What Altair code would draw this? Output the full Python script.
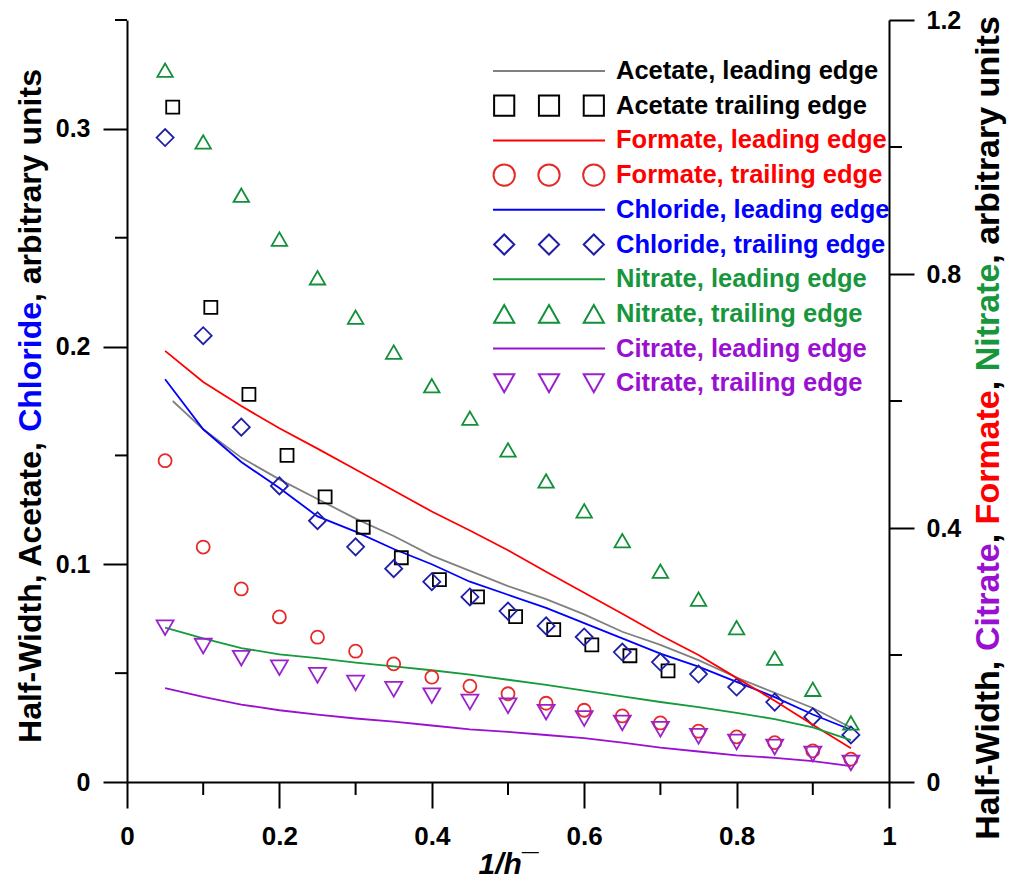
import altair as alt
import pandas as pd

# ---------------- data ----------------
x_pts = [0.05, 0.10, 0.15, 0.20, 0.25, 0.30, 0.35, 0.40, 0.45, 0.50,
         0.55, 0.60, 0.65, 0.70, 0.75, 0.80, 0.85, 0.90, 0.95]

# left axis (Acetate, Chloride)
acetate_lead_x = [0.06, 0.10, 0.15, 0.20, 0.25, 0.30, 0.35, 0.40, 0.45, 0.50,
                  0.55, 0.60, 0.65, 0.70, 0.75, 0.80, 0.85, 0.90, 0.95]
acetate_lead = [0.175, 0.162, 0.149, 0.139, 0.130, 0.121, 0.113, 0.104, 0.097, 0.090,
                0.084, 0.077, 0.069, 0.063, 0.056, 0.048, 0.041, 0.034, 0.025]
acetate_trail_x = [0.06, 0.11, 0.16, 0.21, 0.26, 0.31, 0.36, 0.41, 0.46, 0.51,
                   0.56, 0.61, 0.66, 0.71]
acetate_trail = [0.310, 0.218, 0.178, 0.150, 0.131, 0.117, 0.103, 0.093, 0.085, 0.076,
                 0.070, 0.063, 0.058, 0.051]
chloride_lead = [0.185, 0.162, 0.147, 0.135, 0.122, 0.115, 0.107, 0.100, 0.092, 0.086,
                 0.080, 0.073, 0.066, 0.059, 0.053, 0.046, 0.039, 0.031, 0.024]
chloride_trail = [0.296, 0.205, 0.163, 0.136, 0.120, 0.108, 0.098, 0.092, 0.085, 0.0785,
                  0.0717, 0.0666, 0.0597, 0.0551, 0.0496, 0.0436, 0.0367, 0.0299, 0.0216]

# right axis (Citrate, Formate, Nitrate)
formate_lead = [0.679, 0.630, 0.592, 0.557, 0.525, 0.492, 0.459, 0.426, 0.396, 0.365,
                0.331, 0.298, 0.265, 0.231, 0.200, 0.164, 0.128, 0.090, 0.053]
formate_trail = [0.506, 0.370, 0.304, 0.260, 0.228, 0.206, 0.186, 0.165, 0.151, 0.139,
                 0.124, 0.113, 0.104, 0.093, 0.080, 0.071, 0.062, 0.049, 0.036]
nitrate_lead = [0.243, 0.226, 0.211, 0.201, 0.195, 0.188, 0.182, 0.176, 0.169, 0.161,
                0.153, 0.144, 0.135, 0.126, 0.118, 0.109, 0.099, 0.086, 0.066]
nitrate_trail = [1.121, 1.008, 0.924, 0.855, 0.794, 0.732, 0.677, 0.624, 0.573, 0.523,
                 0.474, 0.427, 0.380, 0.332, 0.288, 0.243, 0.195, 0.146, 0.093]
citrate_lead = [0.148, 0.134, 0.122, 0.113, 0.106, 0.100, 0.095, 0.089, 0.083, 0.079,
                0.074, 0.069, 0.062, 0.054, 0.048, 0.042, 0.038, 0.033, 0.025]
citrate_trail = [0.243, 0.214, 0.195, 0.180, 0.168, 0.156, 0.146, 0.136, 0.126, 0.120,
                 0.110, 0.100, 0.093, 0.083, 0.072, 0.063, 0.055, 0.044, 0.030]

# tick values
x_major = [0, 0.2, 0.4, 0.6, 0.8, 1]
x_minor = [0.1, 0.3, 0.5, 0.7, 0.9]
left_major = [0, 0.1, 0.2, 0.3]
left_minor = [0.05, 0.15, 0.25, 0.35]
right_major = [0, 0.4, 0.8, 1.2]
right_minor = [0.2, 0.6, 1.0]

series_names = ["Acetate, leading edge", "Acetate trailing edge",
                "Formate, leading edge", "Formate, trailing edge",
                "Chloride, leading edge", "Chloride, trailing edge",
                "Nitrate, leading edge", "Nitrate, trailing edge",
                "Citrate, leading edge", "Citrate, trailing edge"]

# ---------------- styles ----------------
C_ACE_L, C_ACE_T = "#808080", "#000000"
C_FOR_L, C_FOR_T = "#ff0000", "#e52a2a"
C_CHL_L, C_CHL_T = "#0000ff", "#1e1eaa"
C_NIT_L, C_NIT_T = "#159a3c", "#12903a"
C_CIT_L, C_CIT_T = "#9a10d0", "#9a22cc"
series_colors = [C_ACE_L, C_ACE_T, C_FOR_L, C_FOR_T, C_CHL_L, C_CHL_T,
                 C_NIT_L, C_NIT_T, C_CIT_L, C_CIT_T]

FONT = "Liberation Sans"
W, H = 762, 762


def triple(fn):
    return " ".join(fn(c) for c in (-0.80, 0.0, 0.80))


line_path = "M-1,0L1,0"
sq_path = triple(lambda c: f"M{c-0.18:.3f},-0.18L{c+0.18:.3f},-0.18L{c+0.18:.3f},0.18L{c-0.18:.3f},0.18Z")
ci_path = triple(lambda c: f"M{c+0.19:.3f},0A0.19,0.19 0 1,1 {c-0.19:.3f},0A0.19,0.19 0 1,1 {c+0.19:.3f},0Z")
di_path = triple(lambda c: f"M{c-0.18:.3f},0L{c:.3f},-0.18L{c+0.18:.3f},0L{c:.3f},0.18Z")
tu_path = triple(lambda c: f"M{c:.3f},-0.16L{c+0.18:.3f},0.16L{c-0.18:.3f},0.16Z")
td_path = triple(lambda c: f"M{c-0.18:.3f},-0.16L{c+0.18:.3f},-0.16L{c:.3f},0.16Z")
series_shapes = [line_path, sq_path, line_path, ci_path, line_path, di_path,
                 line_path, tu_path, line_path, td_path]

axis_common = dict(domainColor="black", domainWidth=2, tickColor="black", tickWidth=2,
                   labelFont=FONT, labelFontWeight="bold", labelColor="black",
                   grid=False, format="~g", labelFlush=False, labelOverlap=False)

x_axis = alt.Axis(orient="bottom", values=x_major, tickSize=26, labelFontSize=26,
                  labelPadding=15, title="1/h\u00af", titleFont=FONT, titleFontSize=30,
                  titleFontStyle="italic", titleFontWeight="bold", titleColor="black",
                  titlePadding=0, **axis_common)
left_axis = alt.Axis(orient="left", values=left_major, tickSize=24, labelFontSize=25,
                     labelPadding=13, title=None, **axis_common)
right_axis = alt.Axis(orient="right", values=right_major, tickSize=25, labelFontSize=25,
                      labelPadding=12, title=None, **axis_common)

X = alt.X("x:Q", scale=alt.Scale(domain=[0, 1], nice=False, zero=False), axis=x_axis)
YL = alt.Y("y:Q", scale=alt.Scale(domain=[0, 0.35], nice=False), axis=left_axis)
YR = alt.Y("y:Q", scale=alt.Scale(domain=[0, 1.2], nice=False), axis=right_axis)


def df(x, y):
    return pd.DataFrame({"x": x, "y": y})


def line(x, y, color, Y):
    return alt.Chart(df(x, y)).mark_line(color=color, strokeWidth=1.8).encode(x=X, y=Y)


def pts(x, y, color, shape, size, Y):
    return alt.Chart(df(x, y)).mark_point(shape=shape, filled=False, color=color,
                                          size=size, strokeWidth=1.8, opacity=1).encode(x=X, y=Y)


# minor ticks
left_minor_ticks = alt.Chart(pd.DataFrame({"y": left_minor})).mark_rule(
    color="black", strokeWidth=2).encode(y=YL, x=alt.value(-12), x2=alt.value(0))
x_minor_ticks = alt.Chart(pd.DataFrame({"x": x_minor})).mark_rule(
    color="black", strokeWidth=2).encode(x=X, y=alt.value(H), y2=alt.value(H + 13))
right_minor_ticks = alt.Chart(pd.DataFrame({"y": right_minor})).mark_rule(
    color="black", strokeWidth=2).encode(y=YR, x=alt.value(W), x2=alt.value(W + 13))

# legend
label_color_expr = ("indexof(datum.label,'Acetate')>=0 ? '#000000' : "
                    "indexof(datum.label,'Formate')>=0 ? '#ff0000' : "
                    "indexof(datum.label,'Chloride')>=0 ? '#0000ff' : "
                    "indexof(datum.label,'Nitrate')>=0 ? '#17963c' : '#9a10d0'")
legend = alt.Legend(orient="none", legendX=365, legendY=39, title=None, padding=0,
                    labelFont=FONT, labelFontWeight="bold", labelFontSize=25.5,
                    labelOffset=10, labelLimit=0, symbolSize=12544, symbolStrokeWidth=2,
                    symbolOpacity=1, symbolFillColor="transparent", clipHeight=24,
                    rowPadding=8.7, labelColor={"expr": label_color_expr})
legend_layer = alt.Chart(pd.DataFrame({"series": series_names})).mark_point(
    filled=False).encode(
    color=alt.Color("series:N", scale=alt.Scale(domain=series_names, range=series_colors),
                    legend=legend),
    shape=alt.Shape("series:N", scale=alt.Scale(domain=series_names, range=series_shapes),
                    legend=legend),
    x=alt.value(0), y=alt.value(0), opacity=alt.value(0))

# multi-colour axis titles (Arial/Liberation Sans Bold advance widths, per 1000 em)
ADV = {' ': 278, ',': 278, '-': 333, 'A': 722, 'C': 722, 'F': 611, 'H': 722, 'N': 722,
       'W': 944, 'a': 556, 'b': 611, 'c': 556, 'd': 611, 'e': 556, 'f': 333, 'h': 611,
       'i': 278, 'l': 278, 'm': 889, 'n': 611, 'o': 611, 'r': 389, 's': 556, 't': 333,
       'u': 611, 'y': 556}


def text_width(s, size):
    return sum(ADV.get(ch, 556) for ch in s) * size / 1000.0


def vertical_title(segments, x, y_center, size):
    total = text_width("".join(s for s, _ in segments), size)
    y = y_center + total / 2.0
    layers = []
    for s, col in segments:
        shown = s.strip()
        lead = len(s) - len(s.lstrip())
        y_start = y - text_width(s[:lead], size)
        layers.append(alt.Chart(alt.Data(values=[{}])).mark_text(
            angle=270, align="left", baseline="middle", font=FONT, fontWeight="bold",
            fontSize=size, color=col).encode(
            text=alt.value(shown), x=alt.value(x), y=alt.value(y_start)))
        y -= text_width(s, size)
    return layers


left_title = vertical_title(
    [("Half-Width, Acetate, ", "#000000"), ("Chloride", "#0000ff"),
     (", arbitrary units", "#000000")], x=-96, y_center=386, size=32)
right_title = vertical_title(
    [("Half-Width, ", "#000000"), ("Citrate", "#9a10d0"), (", ", "#000000"),
     ("Formate", "#ff0000"), (", ", "#000000"), ("Nitrate", "#17963c"),
     (", arbitrary units", "#000000")], x=862, y_center=408, size=34)

left_group = alt.layer(
    line(acetate_lead_x, acetate_lead, C_ACE_L, YL),
    line(x_pts, chloride_lead, C_CHL_L, YL),
    pts(acetate_trail_x, acetate_trail, C_ACE_T, "square", 169, YL),
    pts(x_pts, chloride_trail, C_CHL_T, "diamond", 290, YL),
    left_minor_ticks, x_minor_ticks, legend_layer, *left_title,
)

right_group = alt.layer(
    line(x_pts, formate_lead, C_FOR_L, YR),
    line(x_pts, nitrate_lead, C_NIT_L, YR),
    line(x_pts, citrate_lead, C_CIT_L, YR),
    pts(x_pts, formate_trail, C_FOR_T, "circle", 169, YR),
    pts(x_pts, nitrate_trail, C_NIT_T, "triangle-up", 240, YR),
    pts(x_pts, citrate_trail, C_CIT_T, "triangle-down", 289, YR),
    right_minor_ticks, *right_title,
)

chart = alt.layer(left_group, right_group).resolve_scale(y="independent").properties(
    width=W, height=H,
    padding={"left": 127, "top": 20, "right": 121, "bottom": 102},
    autosize=alt.AutoSizeParams(type="none"),
).configure_view(stroke=None)

chart.save("out.html", embed_options={"renderer": "svg", "actions": False})
